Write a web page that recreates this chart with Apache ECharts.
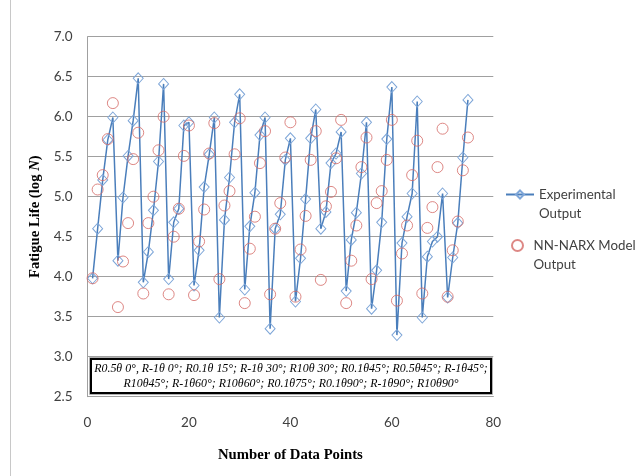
<!DOCTYPE html>
<html>
<head>
<meta charset="utf-8">
<script src="https://cdn.jsdelivr.net/npm/echarts@6/dist/echarts.min.js"></script>
<style>
html,body{margin:0;padding:0;background:#fff;}
#chart{width:641px;height:476px;}
</style>
</head>
<body>
<div id="chart"></div>
<script>
// Data point numbers (x)
var pointNumbers = [1,2,3,4,5,6,7,8,9,10,11,12,13,14,15,16,17,18,19,20,21,22,23,24,25,
  26,27,28,29,30,31,32,33,34,35,36,37,38,39,40,41,42,43,44,45,46,47,48,49,50,
  51,52,53,54,55,56,57,58,59,60,61,62,63,64,65,66,67,68,69,70,71,72,73,74,75];
// Experimental Output (log N)
var experimental = [3.98,4.60,5.21,5.71,5.99,4.20,4.99,5.51,5.95,6.48,
  3.93,4.31,4.83,5.44,6.41,3.97,4.68,4.85,5.89,5.93,
  3.89,4.33,5.12,5.53,5.99,3.49,4.71,5.24,5.93,6.28,
  3.84,4.63,5.05,5.77,5.99,3.35,4.60,4.78,5.46,5.73,
  3.69,4.23,4.97,5.73,6.09,4.60,4.81,5.42,5.54,5.81,
  3.82,4.46,4.80,5.29,5.93,3.60,4.08,4.68,5.72,6.37,
  3.27,4.42,4.75,5.04,6.19,3.49,4.25,4.44,4.50,5.04,
  3.74,4.24,4.67,5.49,6.21];
// NN-NARX Model Output (log N)
var nnNarx = [3.98,5.09,5.27,5.72,6.17,3.62,4.19,4.67,5.47,5.80,
  3.79,4.67,5.00,5.58,6.00,3.78,4.50,4.85,5.51,5.89,
  3.77,4.44,4.84,5.54,5.92,3.97,4.89,5.07,5.53,5.98,
  3.67,4.35,4.75,5.42,5.82,3.78,4.60,4.92,5.49,5.93,
  3.75,4.34,4.76,5.46,5.82,3.96,4.88,5.06,5.48,5.96,
  3.67,4.20,4.64,5.37,5.74,3.97,4.92,5.07,5.46,5.96,
  3.70,4.29,4.64,5.27,5.70,3.79,4.61,4.87,5.37,5.85,
  3.75,4.33,4.69,5.33,5.74];
var seriesNames = ['Experimental Output', 'NN-NARX Model Output'];
// leading blank line keeps the first text line level with the legend icon
var legendLabels = [' \nExperimental\nOutput', ' \nNN-NARX Model\nOutput'];
var xTicks = {min: 0, max: 80, interval: 20};
var yTicks = {min: 2.5, max: 7.0, interval: 0.5};
var xTitle = 'Number of Data Points';
var yTitle = 'Fatigue Life (log {i|N})';
var noteLines = [
  'R0.5\u03B8 0\u00B0, R-1\u03B8 0\u00B0; R0.1\u03B8 15\u00B0; R-1\u03B8 30\u00B0; R10\u03B8 30\u00B0; R0.1\u03B845\u00B0; R0.5\u03B845\u00B0; R-1\u03B845\u00B0;',
  'R10\u03B845\u00B0; R-1\u03B860\u00B0; R10\u03B860\u00B0; R0.1\u03B875\u00B0; R0.1\u03B890\u00B0; R-1\u03B890\u00B0; R10\u03B890\u00B0'
];

var expData = pointNumbers.map(function (x, i) { return [x, experimental[i]]; });
var nnData = pointNumbers.map(function (x, i) { return [x, nnNarx[i]]; });

var chart = echarts.init(document.getElementById('chart'), null, {renderer: 'canvas'});
var sansFont = 'Lato, "Open Sans", sans-serif';
var serifFont = '"Liberation Serif", "Times New Roman", serif';
var legendText = {fontFamily: sansFont, fontSize: 13.3, color: '#404040', lineHeight: 19, width: 94, overflow: 'none'};

chart.setOption({
  animation: false,
  backgroundColor: '#ffffff',
  grid: {left: 87.5, right: 147.7, top: 36.7, bottom: 79.3, containLabel: false},
  legend: [
    {
      data: [seriesNames[0]], orient: 'vertical', left: 505, top: 166, padding: 0,
      itemWidth: 28, itemHeight: 10,
      formatter: function () { return legendLabels[0]; },
      textStyle: legendText
    },
    {
      data: [seriesNames[1]], orient: 'vertical', left: 511, top: 217, padding: 0,
      itemWidth: 22, itemHeight: 11,
      formatter: function () { return legendLabels[1]; },
      textStyle: legendText
    }
  ],
  xAxis: {
    type: 'value', min: xTicks.min, max: xTicks.max, interval: xTicks.interval,
    name: xTitle, nameLocation: 'middle', nameGap: 51,
    nameTextStyle: {fontFamily: serifFont, fontWeight: 'bold', fontSize: 14.7, color: '#000'},
    axisLine: {show: true, lineStyle: {color: '#a0a0a0', width: 1}},
    axisTick: {show: false},
    splitLine: {show: false},
    axisLabel: {margin: 19, fontFamily: sansFont, fontSize: 13.5, color: '#404040'}
  },
  yAxis: {
    type: 'value', min: yTicks.min, max: yTicks.max, interval: yTicks.interval,
    name: yTitle, nameLocation: 'middle', nameGap: 40, nameRotate: 90,
    nameTextStyle: {
      fontFamily: serifFont, fontWeight: 'bold', fontSize: 14.7, color: '#000',
      rich: {i: {fontFamily: serifFont, fontWeight: 'bold', fontStyle: 'italic', fontSize: 14.7, color: '#000'}}
    },
    axisLine: {show: true, lineStyle: {color: '#a0a0a0', width: 1}},
    axisTick: {show: false},
    splitLine: {show: true, lineStyle: {color: '#a0a0a0', width: 1}},
    axisLabel: {
      margin: 15, fontFamily: sansFont, fontSize: 13.5, color: '#404040',
      formatter: function (v) { return v.toFixed(1); }
    }
  },
  series: [
    {
      name: seriesNames[0], type: 'line', data: expData,
      symbol: 'diamond', symbolSize: [10, 11], showAllSymbol: true,
      lineStyle: {color: '#4a7ebb', width: 1.5},
      itemStyle: {color: 'rgba(255,255,255,0)', borderColor: '#7ea6d8', borderWidth: 1},
      emphasis: {disabled: true}, z: 2
    },
    {
      name: seriesNames[1], type: 'scatter', data: nnData,
      symbol: 'circle', symbolSize: 11,
      itemStyle: {color: 'rgba(255,255,255,0)', borderColor: '#d46a66', borderWidth: 1},
      emphasis: {disabled: true}, z: 3
    }
  ],
  graphic: [
    {type: 'line', shape: {x1: 10.5, y1: 0, x2: 10.5, y2: 476}, style: {stroke: '#c8c8c8', lineWidth: 1}, silent: true},
    {type: 'rect', shape: {x: 89.5, y: 357.5, width: 403, height: 37}, style: {fill: 'none', stroke: '#b0b0b0', lineWidth: 1}, z: 10, silent: true},
    {type: 'rect', shape: {x: 91, y: 359, width: 400, height: 34}, style: {fill: '#ffffff', stroke: '#000000', lineWidth: 2}, z: 10, silent: true},
    {type: 'text', x: 291, y: 376.8, z: 11, silent: true,
      style: {text: noteLines.join('\n'), align: 'center', verticalAlign: 'middle',
        font: 'italic 11.9px "Liberation Serif", "Times New Roman", serif', lineHeight: 15, fill: '#000'}}
  ]
});
</script>
</body>
</html>
